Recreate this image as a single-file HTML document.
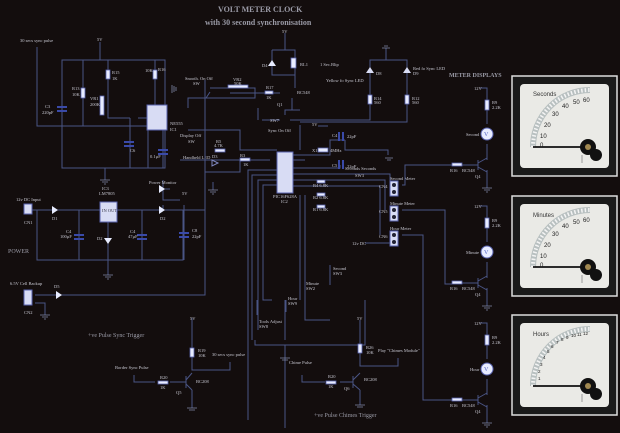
<!DOCTYPE html>
<html><head><meta charset="utf-8"><style>
html,body{margin:0;padding:0;background:#130d0d;}
svg{display:block}
text{font-family:"Liberation Serif",serif;fill:#c8c8d2;font-size:4.5px}
.w{stroke:#4a5585;stroke-width:1;fill:none}
.r{fill:#e8ecff;stroke:#5a64b0;stroke-width:0.8}
.c{fill:#3a4aa8}
.d{fill:#2030ff}
.g{stroke:#8088a8;stroke-width:0.8}
</style></head><body>
<svg width="620" height="433" viewBox="0 0 620 433" xmlns="http://www.w3.org/2000/svg">
<rect width="620" height="433" fill="#130d0d"/>
<text x="218" y="12" style="font-size:8px;font-weight:bold;fill:#9a9aa6">VOLT METER CLOCK</text>
<text x="205" y="25" style="font-size:8px;font-weight:bold;fill:#9a9aa6">with 30 second synchronisation</text>

<!-- 555 timer section -->
<path class="w" d="M62 60H165V168H62Z M83 60V126 M100 42V60 M108 60V118H130 M155 60V110 M37 47V126H147 M130 118V168 M147 118H138 M163 130V168 M105 168V180 M148 130V168"/>
<rect class="r" x="81" y="88" width="4" height="10"/>
<rect class="r" x="106" y="70" width="4" height="9"/>
<rect class="r" x="153" y="70" width="4" height="9"/>
<rect class="r" x="100" y="96" width="4" height="19"/>
<rect x="147" y="105" width="20" height="25" fill="#d8dcf4" stroke="#5a64b0"/>
<rect class="c" x="57" y="106" width="10" height="2"/><rect class="c" x="57" y="110" width="10" height="2"/>
<rect class="c" x="124" y="141" width="10" height="2"/><rect class="c" x="124" y="145" width="10" height="2"/>
<rect class="c" x="158" y="149" width="10" height="2"/><rect class="c" x="158" y="153" width="10" height="2"/>
<path class="g" d="M100 180h10M102 182h6M104 184h2"/>
<text x="20" y="42">30 secs sync pulse</text><text x="97" y="41">5V</text>
<text x="45" y="108">C3</text><text x="42" y="114">220pF</text><text x="72" y="90">R13</text><text x="72" y="96">10K</text>
<text x="90" y="100">VR1</text><text x="90" y="106">200K</text><text x="112" y="74">R15</text><text x="112" y="80">1K</text>
<text x="145" y="72">10K</text><text x="158" y="71">R16</text><text x="170" y="125">NE555</text><text x="170" y="131">IC1</text>
<text x="130" y="152">C6</text><text x="150" y="158">0.1µF</text>

<!-- relay -->
<path class="w" d="M285 33V50 M272 50H295V75 M272 50V75H295 M295 75V88 M188 108V98H255V88H210 M258 108V120 M210 92L206 98 M230 93H280 M292 98V110 M285 115V110H300 M262 120H280"/>
<rect class="r" x="228" y="85" width="20" height="3"/>
<rect class="r" x="265" y="91" width="8" height="3"/>
<rect class="r" x="291" y="58" width="5" height="10"/>
<path d="M268 66l4-6 4 6z" fill="#e8ecff"/>
<text x="282" y="33">5V</text><text x="262" y="67">D4</text><text x="300" y="66">RL1</text>
<text x="185" y="80">Snooth. On Off</text><text x="193" y="85">SW</text><text x="233" y="81">VR2</text><text x="234" y="85">50K</text>
<text x="266" y="89">R17</text><text x="266" y="99">1K</text><text x="297" y="94">BC548</text><text x="277" y="106">Q1</text>
<text x="270" y="122">SW7</text><text x="268" y="132">Sync On Off</text><text x="320" y="66">1 Sec.Blip</text>
<path class="g" d="M172 85v8M174 86v6M176 87v4"/>

<!-- sync LEDs -->
<path class="w" d="M386 48V60H370V120H290 M386 60H407V122H300 M370 60V98 M407 60V98"/>
<rect class="r" x="368" y="95" width="4" height="9"/><rect class="r" x="405" y="95" width="4" height="9"/>
<path d="M366 73h8l-4-6z M403 73h8l-4-6z" fill="#d8dcf4"/>
<path class="g" d="M382 48h8M384 46h4"/>
<text x="376" y="75">D8</text><text x="413" y="70">Red fo Sync LED</text><text x="413" y="75">D9</text>
<text x="326" y="82">Yellow fo Sync LED</text><text x="374" y="100">R14</text><text x="374" y="104">560</text>
<text x="412" y="100">R12</text><text x="412" y="104">560</text>

<!-- PIC -->
<path class="w" d="M188 130H240V150H277 M180 160H270 M205 172H240V160 M213 182V190 M293 155H330V140H345 M293 160H305 M293 168H340V165 M293 174H300H390V185 M293 180H305H385V210 M293 186H330H380V235 M277 185H263V300H272 M277 180H258V330 M277 175H252V340 M277 170H248V420 M300 195V285 M305 195V320H330 M345 140V150H388V155 M300 125V150 M318 126H328"/>
<rect x="277" y="152" width="16" height="41" fill="#d8dcf4" stroke="#5a64b0"/>
<rect class="r" x="215" y="149" width="10" height="3"/><rect class="r" x="240" y="158" width="10" height="3"/>
<rect class="r" x="318" y="148" width="10" height="4"/>
<rect class="c" x="338" y="132" width="2" height="9"/><rect class="c" x="342" y="132" width="2" height="9"/>
<rect class="c" x="338" y="160" width="2" height="9"/><rect class="c" x="342" y="160" width="2" height="9"/>
<rect class="r" x="317" y="180" width="8" height="3"/><rect class="r" x="317" y="193" width="8" height="3"/><rect class="r" x="317" y="205" width="8" height="3"/>
<path d="M212 160l6 3-6 3z" fill="none" stroke="#8088c0"/>
<path class="g" d="M208 190h10M210 192h6M212 194h2 M385 158h8M387 160h4"/>
<text x="180" y="137">Display Off</text><text x="188" y="143">SW</text><text x="216" y="143">R5</text><text x="214" y="147">4.7K</text>
<text x="183" y="159">Handheld LED</text><text x="212" y="158">D3</text><text x="240" y="157">R3</text><text x="243" y="166">1K</text>
<text x="273" y="198">PIC16F628A</text><text x="281" y="203">IC2</text>
<text x="312" y="126">5V</text><text x="332" y="137">C4</text><text x="347" y="138">22pF</text><text x="312" y="152">X1</text><text x="330" y="152">4MHz</text>
<text x="332" y="167">C5</text><text x="347" y="168">22pF</text><text x="345" y="170">Seconds Seconds</text><text x="355" y="177">SW3</text>
<text x="313" y="187">R4 6.8K</text><text x="313" y="199">R2 6.8K</text><text x="313" y="211">R1 6.8K</text>

<!-- connectors -->
<g fill="#d8dcf4" stroke="#5a64b0"><rect x="390" y="181" width="8" height="15"/><rect x="390" y="206" width="8" height="15"/><rect x="390" y="231" width="8" height="15"/></g>
<g fill="#223"><circle cx="394" cy="185" r="2"/><circle cx="394" cy="192" r="2"/><circle cx="394" cy="210" r="2"/><circle cx="394" cy="217" r="2"/><circle cx="394" cy="235" r="2"/><circle cx="394" cy="242" r="2"/></g>
<text x="390" y="180">Second Meter</text><text x="390" y="205">Minute Meter</text><text x="390" y="230">Hour Meter</text>
<text x="379" y="188">CN4</text><text x="379" y="213">CN5</text><text x="379" y="238">CN6</text><text x="352" y="245">12v DC</text>
<path class="w" d="M402 185H405V165H452 M402 210H445V284H452 M402 235H423V400H452 M365 243H390"/>

<!-- meter circuits -->
<g id="mc">
<path class="w" d="M480 88H487V124 M487 144V160 M462 165H478 M487 170V188"/>
<rect class="r" x="485" y="100" width="4" height="10"/>
<circle cx="487" cy="134" r="6" fill="#e8ecff" stroke="#5a64b0"/>
<text x="484" y="136" style="font-size:6px;fill:#5060c0">V</text>
<rect class="r" x="452" y="163" width="10" height="3"/>
<path class="w" d="M478 160V170 M478 163L487 158 M478 167L487 172"/>
<path class="g" d="M482 188h10M484 190h6M486 192h2"/>
<text x="474" y="90">12V</text><text x="492" y="104">R9</text><text x="492" y="109">2.2K</text>
<text x="450" y="172">R16</text><text x="462" y="172">BC548</text><text x="475" y="178">Q4</text>
</g>
<use href="#mc" y="118"/><use href="#mc" y="235"/>
<text x="466" y="136">Second</text><text x="466" y="254">Minute</text><text x="470" y="371">Hour</text>
<text x="449" y="77" style="font-size:6px;font-weight:bold;fill:#9a9aa6">METER DISPLAYS</text>

<!-- power -->
<path class="w" d="M30 210H100 M117 210H205V80 M163 180V200H180 M163 189H170 M108 222V275 M37 210V260H183V210 M79 210V260 M142 210V260 M184 205V260 M35 295H205V210 M35 303H45V315 M163 210V205"/>
<rect x="24" y="204" width="8" height="10" fill="#d8dcf4" stroke="#5a64b0"/>
<rect x="24" y="290" width="8" height="15" fill="#d8dcf4" stroke="#5a64b0"/>
<rect x="100" y="202" width="17" height="20" fill="#d8dcf4" stroke="#5a64b0"/>
<path d="M52 206v8l6-4z M159 206v8l6-4z M159 185v8l6-4z M56 291v8l6-4z M104 238h8l-4 6z" fill="#e8ecff"/>
<g class="c"><rect x="74" y="234" width="10" height="2"/><rect x="74" y="238" width="10" height="2"/><rect x="137" y="234" width="10" height="2"/><rect x="137" y="238" width="10" height="2"/><rect x="179" y="232" width="10" height="2"/><rect x="179" y="236" width="10" height="2"/></g>
<path class="g" d="M103 275h10M105 277h6M107 279h2 M40 315h10M42 317h6M44 319h2"/>
<text x="16" y="201">12v DC Input</text><text x="24" y="224">CN1</text><text x="52" y="220">D1</text>
<text x="102" y="190">IC3</text><text x="99" y="195">LM7805</text><text x="102" y="212" style="fill:#334">IN OUT</text>
<text x="97" y="240">D2</text><text x="66" y="233">C4</text><text x="60" y="238">100µF</text><text x="130" y="233">C4</text><text x="128" y="238">47µF</text>
<text x="192" y="232">C8</text><text x="192" y="238">22pF</text><text x="149" y="184">Power Monitor</text><text x="160" y="220">D2</text><text x="182" y="195">5V</text>
<text x="8" y="253" style="font-size:6px;fill:#9a9aa6">POWER</text>
<text x="10" y="285">6.5V Cell Backup</text><text x="24" y="314">CN2</text><text x="54" y="288">D5</text>

<!-- buttons -->
<path class="w" d="M255 340V345H365V300 M285 300V340 M300 285V300 M285 428V345 M330 270V285"/>
<path class="w" d="M257 300V315 M286 300V312 M330 265V278"/>
<text x="259" y="323">Tools Adjust</text><text x="259" y="328">SW8</text><text x="288" y="300">Hour</text><text x="288" y="305">SW9</text>
<text x="306" y="285">Minute</text><text x="306" y="290">SW2</text><text x="333" y="270">Second</text><text x="333" y="275">SW3</text>
<path class="g" d="M280 358h10M282 360h6"/>
<text x="289" y="364">Chime Pulse</text>

<!-- sync trigger -->
<path class="w" d="M192 318V370H230V362 M134 375V382H155 M170 382H186 M192 390V408 M186 376V388 M186 380L192 373 M186 384L192 390"/>
<rect class="r" x="190" y="348" width="4" height="9"/><rect class="r" x="158" y="381" width="10" height="3"/>
<path class="g" d="M187 408h10M189 410h6"/>
<text x="190" y="320">5V</text><text x="198" y="352">R19</text><text x="198" y="357">10K</text><text x="212" y="356">30 secs sync pulse</text>
<text x="115" y="369">Border Sync Pulse</text><text x="160" y="379">R20</text><text x="160" y="389">1K</text><text x="196" y="383">BC208</text><text x="176" y="394">Q5</text>
<text x="88" y="337" style="font-size:6px;fill:#9a9aa6">+ve Pulse Sync Trigger</text>

<!-- chimes trigger -->
<path class="w" d="M360 320V366H398V358 M302 375V382H325 M340 382H353 M360 390V405 M353 376V388 M353 380L360 373 M353 384L360 390"/>
<rect class="r" x="358" y="344" width="4" height="9"/><rect class="r" x="326" y="381" width="10" height="3"/>
<path class="g" d="M355 405h10M357 407h6"/>
<text x="357" y="320">5V</text><text x="366" y="349">R26</text><text x="366" y="354">10K</text><text x="378" y="352">Play "Chimes Module"</text>
<text x="328" y="378">R20</text><text x="328" y="388">1K</text><text x="364" y="381">BC208</text><text x="344" y="390">Q6</text>
<text x="314" y="417" style="font-size:6px;fill:#9a9aa6">+ve Pulse Chimes Trigger</text>

<!-- meters -->
<defs>
<g id="meter">
<rect x="512" y="76" width="105" height="100" fill="#1a1a1a" stroke="#ddd" stroke-width="1.5"/>
<rect x="520" y="84" width="89" height="84" rx="4" fill="#eaeae6"/>
<path d="M533 147A57 57 0 0 1 590 90" fill="none" stroke="#b8c0c0" stroke-width="6"/>
<path d="M533 147A57 57 0 0 1 590 90" fill="none" stroke="#f4f4f4" stroke-width="4" stroke-dasharray="1.5 2"/>
<line x1="533" y1="147" x2="590" y2="147" stroke="#111" stroke-width="1.8"/>
<circle cx="588" cy="147" r="8" fill="#111"/><circle cx="588" cy="147" r="3" fill="#a08850"/>
<circle cx="596" cy="155" r="6" fill="#111"/>
<line x1="582" y1="155" x2="582" y2="163" stroke="#999"/>
</g>
</defs>
<g style="font-family:'Liberation Sans',sans-serif">
<use href="#meter"/>
<text x="533" y="96" style="font-family:'Liberation Sans';font-size:6px;fill:#333">Seconds</text>
<g style="font-size:6px"><text x="540" y="147" style="fill:#222;font-size:6px;font-family:'Liberation Sans'">0</text>
<text x="540" y="138" style="fill:#222;font-size:6px;font-family:'Liberation Sans'">10</text>
<text x="544" y="127" style="fill:#222;font-size:6px;font-family:'Liberation Sans'">20</text>
<text x="552" y="116" style="fill:#222;font-size:6px;font-family:'Liberation Sans'">30</text>
<text x="562" y="108" style="fill:#222;font-size:6px;font-family:'Liberation Sans'">40</text>
<text x="573" y="104" style="fill:#222;font-size:6px;font-family:'Liberation Sans'">50</text>
<text x="583" y="102" style="fill:#222;font-size:6px;font-family:'Liberation Sans'">60</text></g>
<use href="#meter" y="120"/>
<text x="533" y="217" style="font-family:'Liberation Sans';font-size:6px;fill:#333">Minutes</text>
<text x="540" y="267" style="fill:#222;font-size:6px;font-family:'Liberation Sans'">0</text>
<text x="540" y="258" style="fill:#222;font-size:6px;font-family:'Liberation Sans'">10</text>
<text x="544" y="247" style="fill:#222;font-size:6px;font-family:'Liberation Sans'">20</text>
<text x="552" y="236" style="fill:#222;font-size:6px;font-family:'Liberation Sans'">30</text>
<text x="562" y="228" style="fill:#222;font-size:6px;font-family:'Liberation Sans'">40</text>
<text x="573" y="224" style="fill:#222;font-size:6px;font-family:'Liberation Sans'">50</text>
<text x="583" y="222" style="fill:#222;font-size:6px;font-family:'Liberation Sans'">60</text>
<use href="#meter" y="239"/>
<text x="533" y="336" style="font-family:'Liberation Sans';font-size:6px;fill:#333">Hours</text>
<g style="fill:#222;font-size:4.5px;font-family:'Liberation Sans'">
<text x="538" y="380" style="fill:#222;font-size:4.5px;font-family:'Liberation Sans'">1</text><text x="538" y="373" style="fill:#222;font-size:4.5px;font-family:'Liberation Sans'">2</text>
<text x="540" y="366" style="fill:#222;font-size:4.5px;font-family:'Liberation Sans'">3</text><text x="543" y="359" style="fill:#222;font-size:4.5px;font-family:'Liberation Sans'">4</text>
<text x="547" y="353" style="fill:#222;font-size:4.5px;font-family:'Liberation Sans'">5</text><text x="551" y="348" style="fill:#222;font-size:4.5px;font-family:'Liberation Sans'">6</text>
<text x="556" y="344" style="fill:#222;font-size:4.5px;font-family:'Liberation Sans'">7</text><text x="561" y="341" style="fill:#222;font-size:4.5px;font-family:'Liberation Sans'">8</text>
<text x="566" y="339" style="fill:#222;font-size:4.5px;font-family:'Liberation Sans'">9</text><text x="571" y="337" style="fill:#222;font-size:4.5px;font-family:'Liberation Sans'">10</text>
<text x="577" y="336" style="fill:#222;font-size:4.5px;font-family:'Liberation Sans'">11</text><text x="583" y="335" style="fill:#222;font-size:4.5px;font-family:'Liberation Sans'">12</text></g>
</g>
</svg>
</body></html>
